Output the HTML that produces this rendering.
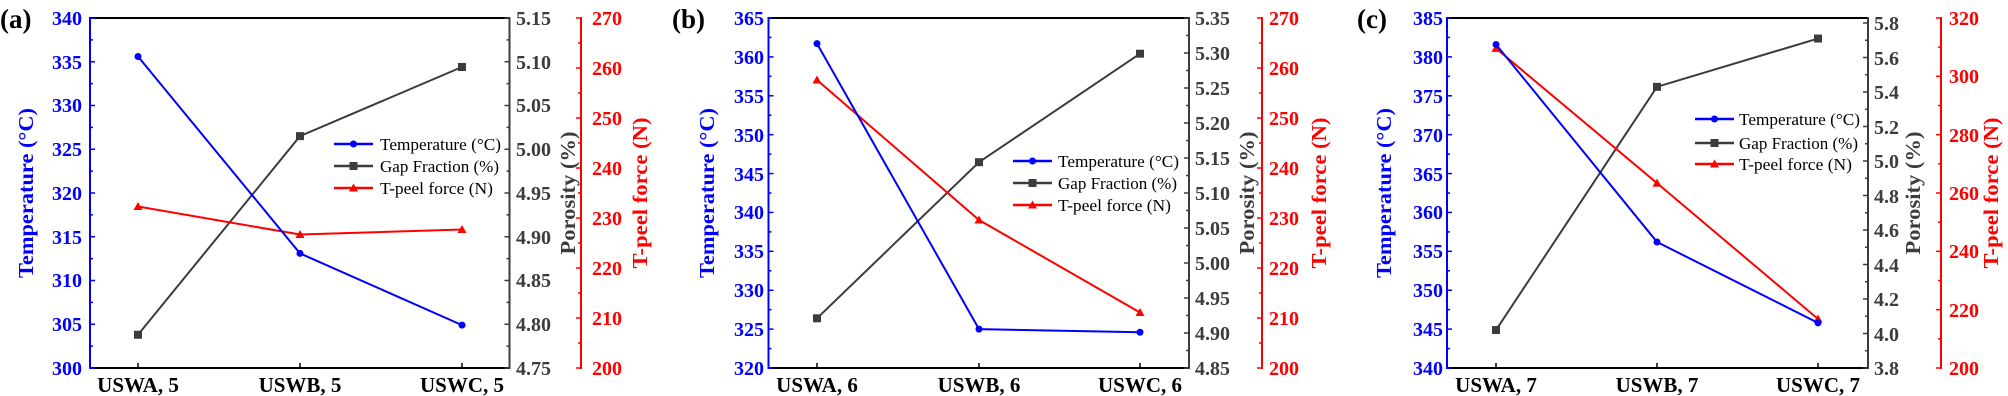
<!DOCTYPE html>
<html><head><meta charset="utf-8"><style>
body{margin:0;background:#fff}
svg{display:block}
svg text{font-family:"Liberation Serif","Times New Roman","DejaVu Serif",serif}
.t{font-weight:bold;font-size:20px}
.b{fill:#0000ff}.g{fill:#3c3c3c}.r{fill:#ff0000}
.x{font-weight:bold;font-size:21px;fill:#000;text-anchor:middle}
.l{font-size:17px;fill:#000}
.h{font-weight:bold;font-size:21px;text-anchor:middle}
.p{font-weight:bold;font-size:27px;fill:#000}
</style></head><body>
<svg id="s" width="2008" height="396" viewBox="0 0 2008 396" xmlns="http://www.w3.org/2000/svg" font-family="Liberation Serif, Times New Roman, serif">
<g id="lines"></g>
<!-- Panel a -->
<text class="p" x="0" y="28">(a)</text>
<g class="t b" text-anchor="end">
<text x="82" y="25">340</text><text x="82" y="69">335</text><text x="82" y="112">330</text><text x="82" y="156">325</text><text x="82" y="200">320</text><text x="82" y="244">315</text><text x="82" y="287">310</text><text x="82" y="331">305</text><text x="82" y="375">300</text></g>
<g class="t g"><text x="516" y="25">5.15</text><text x="516" y="69">5.10</text><text x="516" y="112">5.05</text><text x="516" y="156">5.00</text><text x="516" y="200">4.95</text><text x="516" y="244">4.90</text><text x="516" y="287">4.85</text><text x="516" y="331">4.80</text><text x="516" y="375">4.75</text></g>
<g class="t r"><text x="592" y="25">270</text><text x="592" y="75">260</text><text x="592" y="125">250</text><text x="592" y="175">240</text><text x="592" y="225">230</text><text x="592" y="275">220</text><text x="592" y="325">210</text><text x="592" y="375">200</text></g>
<text class="x" x="138" y="392">USWA, 5</text><text class="x" x="300" y="392">USWB, 5</text><text class="x" x="462" y="392">USWC, 5</text>
<text class="h b" transform="translate(33,193) rotate(-90)" textLength="170" lengthAdjust="spacingAndGlyphs">Temperature (°C)</text>
<text class="h g" transform="translate(575,193) rotate(-90)" textLength="123" lengthAdjust="spacingAndGlyphs">Porosity (%)</text>
<text class="h r" transform="translate(647,193) rotate(-90)" textLength="151" lengthAdjust="spacingAndGlyphs">T-peel force (N)</text>
<g class="l"><text x="380" y="150" textLength="121" lengthAdjust="spacingAndGlyphs">Temperature (°C)</text><text x="380" y="172" textLength="119" lengthAdjust="spacingAndGlyphs">Gap Fraction (%)</text><text x="380" y="194" textLength="113" lengthAdjust="spacingAndGlyphs">T-peel force (N)</text></g>
<!-- Panel b -->
<text class="p" x="672" y="28">(b)</text>
<g class="t b" text-anchor="end">
<text x="764" y="25">365</text><text x="764" y="64">360</text><text x="764" y="103">355</text><text x="764" y="142">350</text><text x="764" y="181">345</text><text x="764" y="219">340</text><text x="764" y="258">335</text><text x="764" y="297">330</text><text x="764" y="336">325</text><text x="764" y="375">320</text></g>
<g class="t g"><text x="1195" y="25">5.35</text><text x="1195" y="60">5.30</text><text x="1195" y="95">5.25</text><text x="1195" y="130">5.20</text><text x="1195" y="165">5.15</text><text x="1195" y="200">5.10</text><text x="1195" y="235">5.05</text><text x="1195" y="270">5.00</text><text x="1195" y="305">4.95</text><text x="1195" y="340">4.90</text><text x="1195" y="375">4.85</text></g>
<g class="t r"><text x="1269" y="25">270</text><text x="1269" y="75">260</text><text x="1269" y="125">250</text><text x="1269" y="175">240</text><text x="1269" y="225">230</text><text x="1269" y="275">220</text><text x="1269" y="325">210</text><text x="1269" y="375">200</text></g>
<text class="x" x="817" y="392">USWA, 6</text><text class="x" x="979" y="392">USWB, 6</text><text class="x" x="1140" y="392">USWC, 6</text>
<text class="h b" transform="translate(714,193) rotate(-90)" textLength="170" lengthAdjust="spacingAndGlyphs">Temperature (°C)</text>
<text class="h g" transform="translate(1254,193) rotate(-90)" textLength="123" lengthAdjust="spacingAndGlyphs">Porosity (%)</text>
<text class="h r" transform="translate(1326,193) rotate(-90)" textLength="151" lengthAdjust="spacingAndGlyphs">T-peel force (N)</text>
<g class="l"><text x="1058" y="167" textLength="121" lengthAdjust="spacingAndGlyphs">Temperature (°C)</text><text x="1058" y="189" textLength="119" lengthAdjust="spacingAndGlyphs">Gap Fraction (%)</text><text x="1058" y="211" textLength="113" lengthAdjust="spacingAndGlyphs">T-peel force (N)</text></g>
<!-- Panel c -->
<text class="p" x="1357" y="28">(c)</text>
<g class="t b" text-anchor="end">
<text x="1443" y="25">385</text><text x="1443" y="64">380</text><text x="1443" y="103">375</text><text x="1443" y="142">370</text><text x="1443" y="181">365</text><text x="1443" y="219">360</text><text x="1443" y="258">355</text><text x="1443" y="297">350</text><text x="1443" y="336">345</text><text x="1443" y="375">340</text></g>
<g class="t g"><text x="1874" y="30">5.8</text><text x="1874" y="65">5.6</text><text x="1874" y="99">5.4</text><text x="1874" y="134">5.2</text><text x="1874" y="168">5.0</text><text x="1874" y="203">4.8</text><text x="1874" y="237">4.6</text><text x="1874" y="272">4.4</text><text x="1874" y="306">4.2</text><text x="1874" y="341">4.0</text><text x="1874" y="375">3.8</text></g>
<g class="t r"><text x="1949" y="25">320</text><text x="1949" y="83">300</text><text x="1949" y="142">280</text><text x="1949" y="200">260</text><text x="1949" y="258">240</text><text x="1949" y="317">220</text><text x="1949" y="375">200</text></g>
<text class="x" x="1496" y="392">USWA, 7</text><text class="x" x="1657" y="392">USWB, 7</text><text class="x" x="1818" y="392">USWC, 7</text>
<text class="h b" transform="translate(1391,193) rotate(-90)" textLength="170" lengthAdjust="spacingAndGlyphs">Temperature (°C)</text>
<text class="h g" transform="translate(1920,193) rotate(-90)" textLength="123" lengthAdjust="spacingAndGlyphs">Porosity (%)</text>
<text class="h r" transform="translate(1998,193) rotate(-90)" textLength="151" lengthAdjust="spacingAndGlyphs">T-peel force (N)</text>
<g class="l"><text x="1739" y="125" textLength="121" lengthAdjust="spacingAndGlyphs">Temperature (°C)</text><text x="1739" y="149" textLength="119" lengthAdjust="spacingAndGlyphs">Gap Fraction (%)</text><text x="1739" y="170" textLength="113" lengthAdjust="spacingAndGlyphs">T-peel force (N)</text></g>
</svg>
<script>
var NS="http://www.w3.org/2000/svg",G=document.getElementById("lines");
function el(n,a){var e=document.createElementNS(NS,n);for(var k in a)e.setAttribute(k,a[k]);G.appendChild(e);return e;}
function ln(x1,y1,x2,y2,c,w){el("line",{x1:x1,y1:y1,x2:x2,y2:y2,stroke:c,"stroke-width":w||2});}
var T=18,B=368;
var P=[
{L:90,R:509.5,RA:581,xs:[138,300,462],b:[300,340,5],g:[4.75,5.15,0.05],r:[200,270,10],
 tv:[335.6,313.1,304.9],gv:[4.788,5.015,5.094],rv:[232.3,226.7,227.7],leg:[334,373,144,166,188]},
{L:768.5,R:1189,RA:1262,xs:[817,979,1140],b:[320,365,5],g:[4.85,5.35,0.05],r:[200,270,10],
 tv:[361.7,325.0,324.6],gv:[4.921,5.144,5.299],rv:[257.6,229.6,211.1],leg:[1013,1052,161,183,205]},
{L:1447,R:1868,RA:1941,xs:[1496,1657,1818],b:[340,385,5],g:[3.8,5.8,0.2],gtop:23,r:[200,320,20],
 tv:[381.6,356.2,345.8],gv:[4.02,5.43,5.71],rv:[309.6,263.4,216.8],leg:[1695,1734,119,143,164]}];
P.forEach(function(p){
 var yb=function(v){return B-(v-p.b[0])/(p.b[1]-p.b[0])*(B-T);};
 var gt=p.gtop||T;
 var yg=function(v){return B-(v-p.g[0])/(p.g[1]-p.g[0])*(B-gt);};
 var yr=function(v){return B-(v-p.r[0])/(p.r[1]-p.r[0])*(B-T);};
 ln(p.L-1,T,p.R+1,T,"#000");ln(p.L-1,B,p.R+1,B,"#000");
 ln(p.L,T,p.L,B+1,"#0000ff");ln(p.R,T-1,p.R,B+1,"#3c3c3c");ln(p.RA,T-1,p.RA,B+1,"#ff0000");
 var v;
 function isMaj(v,a){var q=(v-a[0])/a[2];return Math.abs(Math.round(q)-q)<1e-6;}
 for(v=p.b[0];v<=p.b[1]+1e-6;v+=p.b[2]/2){var y=yb(v);ln(p.L,y,p.L+(isMaj(v,p.b)?5:3),y,"#0000ff",1.5);}
 for(v=p.g[0];v<=p.g[1]+1e-6;v+=p.g[2]/2){var y=yg(v);ln(p.R,y,p.R-(isMaj(v,p.g)?5:3),y,"#3c3c3c",1.5);}
 for(v=p.r[0];v<=p.r[1]+1e-6;v+=p.r[2]/2){var y=yr(v);ln(p.RA,y,p.RA-(isMaj(v,p.r)?5:3),y,"#ff0000",1.5);}
 p.xs.forEach(function(x){ln(x,B,x,B-5,"#000",1.5);});
 function mk(x,y,c,m){if(m=="o")el("circle",{cx:x,cy:y,r:3.5,fill:c});
  else if(m=="s")el("rect",{x:x-4,y:y-4,width:8,height:8,fill:c});
  else el("polygon",{points:(x-4.5)+","+(y+3.5)+" "+(x+4.5)+","+(y+3.5)+" "+x+","+(y-4.5),fill:c});}
 function ser(vals,f,c,m){var pts=vals.map(function(v,i){return p.xs[i]+","+f(v);}).join(" ");
  el("polyline",{points:pts,fill:"none",stroke:c,"stroke-width":2});
  vals.forEach(function(v,i){mk(p.xs[i],f(v),c,m);});}
 ser(p.gv,yg,"#3c3c3c","s");ser(p.rv,yr,"#ff0000","t");ser(p.tv,yb,"#0000ff","o");
 var L=p.leg,cx=(L[0]+L[1])/2;
 [["#0000ff","o"],["#3c3c3c","s"],["#ff0000","t"]].forEach(function(s,i){ln(L[0],L[2+i],L[1],L[2+i],s[0],2.5);mk(cx,L[2+i],s[0],s[1]);});
});
</script>
</body></html>
